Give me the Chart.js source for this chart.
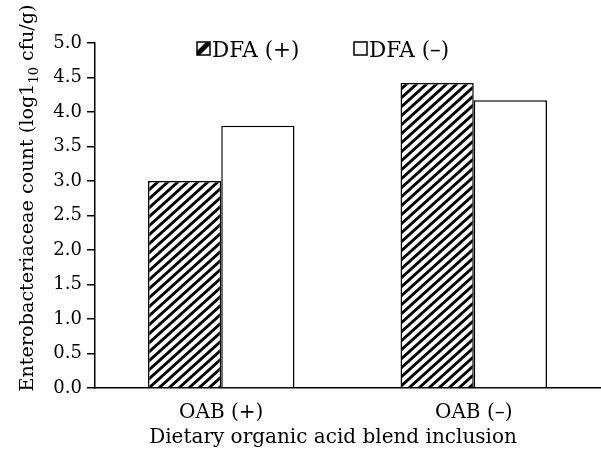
<!DOCTYPE html>
<html>
<head>
<meta charset="utf-8">
<script src="https://cdn.jsdelivr.net/npm/chart.js@4"></script>
<style>
  html, body { margin: 0; padding: 0; background: #fff; }
  #wrap { width: 601px; height: 449px; }
</style>
</head>
<body>
<div id="wrap"><canvas id="mainChart" width="601" height="449"></canvas></div>
<script>
// Data
const categories = ['OAB (+)', 'OAB (\u2013)'];
const seriesNames = ['DFA (+)', 'DFA (\u2013)'];
const dfaPlus = [3.0, 4.42];
const dfaMinus = [3.8, 4.17];
const yTicks = [0, 0.5, 1, 1.5, 2, 2.5, 3, 3.5, 4, 4.5, 5];

const FONT = "'DejaVu Serif', serif";

// diagonal hatch ("/") pattern
function makeHatch() {
    const w = 10, h = 9;
    const c = document.createElement('canvas');
    c.width = w; c.height = h;
    const g = c.getContext('2d');
    g.fillStyle = '#fff';
    g.fillRect(0, 0, w, h);
    g.strokeStyle = '#000';
    g.lineWidth = 2.8;
    g.beginPath();
    for (let k = -1; k <= 1; k++) {
        g.moveTo(-w + k * w, 2 * h); g.lineTo(2 * w + k * w, -h);
    }
    g.stroke();
    return c;
}

const ctx = document.getElementById('mainChart').getContext('2d');
const hatch = ctx.createPattern(makeHatch(), 'repeat');

// y title with subscript, x title and legend drawn by hand
const extras = {
    id: 'extras',
    afterDraw(chart) {
        const c = chart.ctx;
        c.save();
        c.fillStyle = '#000';
        c.textBaseline = 'alphabetic';
        // y axis title
        const p1 = 'Enterobacteriaceae count (log1';
        const p2 = '10';
        const p3 = ' cfu/g)';
        c.font = '19.2px ' + FONT;
        const w1 = c.measureText(p1).width;
        const w3 = c.measureText(p3).width;
        c.font = '13px ' + FONT;
        const w2 = c.measureText(p2).width;
        const total = w1 + w2 + w3;
        c.translate(33, 198);
        c.rotate(-Math.PI / 2);
        let x = -total / 2;
        c.font = '19.2px ' + FONT;
        c.fillText(p1, x, 0);
        x += w1;
        c.font = '13px ' + FONT;
        c.fillText(p2, x, 5);
        x += w2;
        c.font = '19.2px ' + FONT;
        c.fillText(p3, x, 0);
        c.restore();

        // x axis title
        c.save();
        c.fillStyle = '#000';
        c.font = '20px ' + FONT;
        c.textAlign = 'center';
        c.textBaseline = 'alphabetic';
        c.fillText('Dietary organic acid blend inclusion', 333, 443);
        c.restore();

        // legend
        c.save();
        c.font = '21.5px ' + FONT;
        c.textBaseline = 'alphabetic';
        const items = [
            { x: 197, hatched: true, label: seriesNames[0] },
            { x: 354, hatched: false, label: seriesNames[1] }
        ];
        items.forEach(it => {
            c.fillStyle = '#fff';
            c.fillRect(it.x, 42, 13, 13);
            if (it.hatched) {
                c.save();
                c.beginPath();
                c.rect(it.x, 42, 13, 13);
                c.clip();
                c.fillStyle = '#000';
                c.beginPath();
                c.moveTo(it.x, 55); c.lineTo(it.x, 51); c.lineTo(it.x + 9, 42);
                c.lineTo(it.x + 13, 42); c.lineTo(it.x + 13, 45); c.lineTo(it.x + 3, 55);
                c.closePath();
                c.fill();
                c.restore();
            }
            c.strokeStyle = '#000';
            c.lineWidth = 1.5;
            c.strokeRect(it.x, 42, 13, 13);
            c.fillStyle = '#000';
            c.fillText(it.label, it.x + 15, 57);
        });
        c.restore();
    }
};

new Chart(ctx, {
    type: 'bar',
    data: {
        labels: categories,
        datasets: [
            {
                label: seriesNames[0],
                data: dfaPlus,
                backgroundColor: hatch,
                borderColor: '#000',
                borderWidth: 1.5,
                borderSkipped: 'bottom',
                categoryPercentage: 0.58,
                barPercentage: 1.0
            },
            {
                label: seriesNames[1],
                data: dfaMinus,
                backgroundColor: '#fff',
                borderColor: '#000',
                borderWidth: 1.5,
                borderSkipped: 'bottom',
                categoryPercentage: 0.58,
                barPercentage: 1.0
            }
        ]
    },
    options: {
        responsive: false,
        animation: false,
        layout: { padding: { top: 43, right: 1, left: 0, bottom: 0 } },
        plugins: {
            legend: { display: false },
            tooltip: { enabled: false }
        },
        scales: {
            x: {
                grid: { display: false },
                border: { display: true, color: '#000', width: 1.5 },
                ticks: { color: '#000', font: { family: FONT, size: 20 }, padding: 5 },
                afterFit(scale) { scale.height = 61; }
            },
            y: {
                min: 0,
                max: 5,
                afterBuildTicks(scale) { scale.ticks = yTicks.map(v => ({ value: v })); },
                grid: {
                    drawOnChartArea: false,
                    drawTicks: true,
                    tickLength: 8,
                    color: '#000',
                    lineWidth: 1.5
                },
                border: { display: true, color: '#000', width: 1.5 },
                ticks: {
                    color: '#000',
                    font: { family: FONT, size: 18 },
                    padding: 5,
                    callback: v => Number(v).toFixed(1)
                },
                afterFit(scale) { scale.width = 95; }
            }
        }
    },
    plugins: [extras]
});
</script>
</body>
</html>
